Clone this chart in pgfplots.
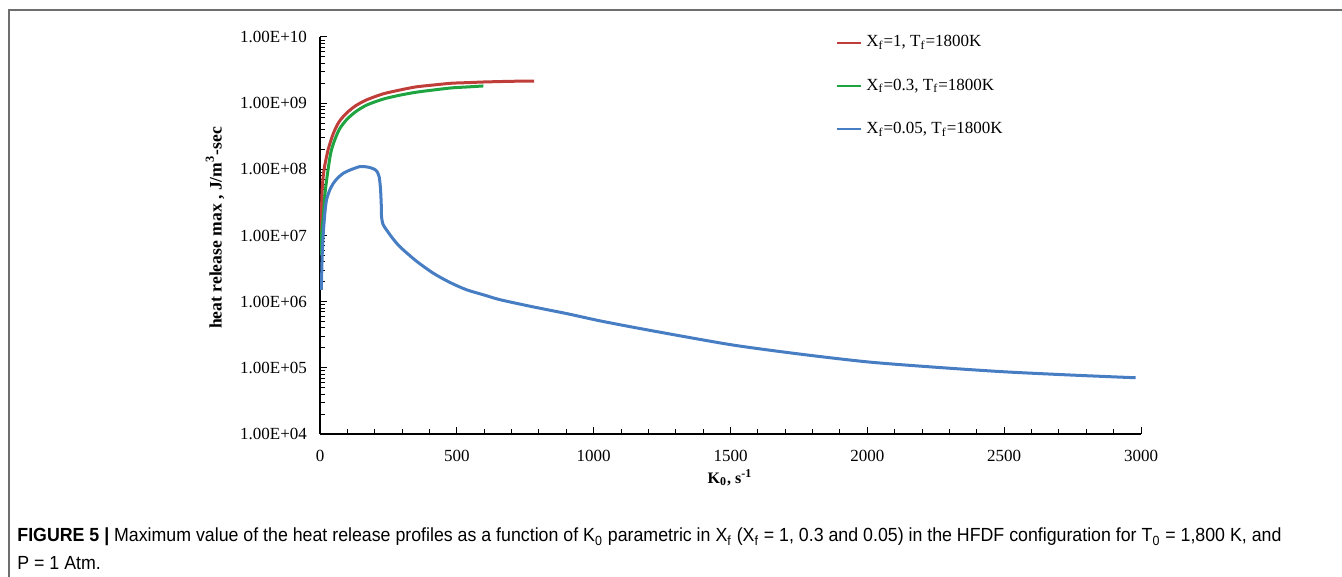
\documentclass[border=0pt]{standalone}
\usepackage{pgfplots}
\pgfplotsset{compat=1.18}
\usepackage{fontspec}
\setmainfont{Liberation Serif}
\newfontfamily\capfont[FakeStretch=0.935]{Liberation Sans}
\definecolor{cred}{RGB}{192,62,58}
\definecolor{cgreen}{RGB}{30,165,65}
\definecolor{cblue}{RGB}{70,125,195}
\definecolor{frm}{RGB}{110,110,110}
\begin{document}
\begin{tikzpicture}
\path[use as bounding box] (0pt,0pt) rectangle (671pt,288.5pt);
\draw[frm, line width=0.7pt] (4.5pt,0pt) -- (4.5pt,283.5pt) -- (671pt,283.5pt);
\begin{axis}[
  at={(160pt,71.5pt)}, anchor=south west,
  scale only axis, width=410.5pt, height=198.5pt,
  axis lines=left, axis line style={-, line width=0.6pt},
  xmin=0, xmax=3000, ymin=1e4, ymax=1e10, ymode=log,
  xtick={0,500,...,3000}, minor x tick num=4,
  xticklabels={0,500,1000,1500,2000,2500,3000},
  ytick={1e4,1e5,1e6,1e7,1e8,1e9,1e10},
  yticklabels={1.00E+04,1.00E+05,1.00E+06,1.00E+07,1.00E+08,1.00E+09,1.00E+10},
  tick align=inside, major tick length=3.5pt, minor tick length=2.5pt,
  tick style={black, line width=0.5pt},
  ticklabel style={font=\fontsize{8.5}{10}\selectfont},
  yticklabel style={xshift=-3pt},
  xticklabel style={yshift=-4.5pt},
  every axis plot/.append style={line width=1.5pt, line join=round, smooth, tension=0.45},
  legend style={draw=none, fill=none, at={(rel axis cs:0.6285,1.0)}, yshift=3pt, anchor=north west,
    font=\fontsize{8.5}{10}\selectfont, row sep=10.5pt, inner sep=0pt},
  legend cell align=left,
  legend image code/.code={\draw[#1,line width=1pt] (0pt,0pt) -- (12pt,0pt);},
]
\addplot[cred] coordinates {
(3,1.0e7) (8,5.01e7) (15,1.0e8) (30,2.0e8) (49,3.51e8) (70,5.25e8) (97,7.08e8)
(130,9.12e8) (170,1.12e9) (230,1.38e9) (292,1.58e9) (350,1.76e9) (414,1.88e9)
(480,2.0e9) (536,2.04e9) (600,2.09e9) (700,2.14e9) (782,2.16e9)};
\addlegendentry{X\textsubscript{f}=1, T\textsubscript{f}=1800K}
\addplot[cgreen] coordinates {
(3,5.01e6) (6,1.07e7) (12,1.91e7) (20,5.01e7) (37,1.58e8) (49,2.45e8) (70,3.98e8)
(97,5.62e8) (130,7.41e8) (170,9.33e8) (230,1.15e9) (292,1.32e9) (350,1.46e9)
(414,1.58e9) (480,1.70e9) (540,1.76e9) (597,1.82e9)};
\addlegendentry{X\textsubscript{f}=0.3, T\textsubscript{f}=1800K}
\addplot[cblue] coordinates {
(5,1.51e6) (8,5.01e6) (12,1.07e7) (18,2.24e7) (24,3.47e7) (35,4.79e7) (49,6.17e7)
(65,7.41e7) (85,8.71e7) (110,9.77e7) (146,1.10e8) (175,1.08e8) (195,1.02e8)
(208,9.33e7) (216,7.76e7) (220,5.75e7) (222,4.37e7) (224,2.82e7) (225,1.91e7)
(230,1.48e7) (244,1.20e7) (265,9.12e6) (292,6.76e6) (350,4.17e6) (414,2.69e6)
(475,1.95e6) (536,1.51e6) (600,1.26e6) (658,1.07e6) (780,8.32e5) (901,6.61e5)
(1023,5.13e5) (1200,3.72e5) (1500,2.24e5) (1750,1.62e5) (2000,1.23e5)
(2250,1.02e5) (2500,8.71e4) (2750,7.76e4) (2980,7.08e4)};
\addlegendentry{X\textsubscript{f}=0.05, T\textsubscript{f}=1800K}
\end{axis}
\node[rotate=90, font=\bfseries\fontsize{8.8}{10}\selectfont] at (107.5pt,174.5pt) {heat release max , J/m\textsuperscript{3}-sec};
\node[font=\bfseries\fontsize{8}{10}\selectfont] at (365pt,49.5pt) {K\textsubscript{0}, s\textsuperscript{-1}};
\node[anchor=base west, inner sep=0pt, font=\capfont\fontsize{9.5}{14}\selectfont] at (8.5pt,17.5pt) {\textbf{FIGURE 5 |} Maximum value of the heat release profiles as a function of K\textsubscript{0} parametric in X\textsubscript{f} (X\textsubscript{f} = 1, 0.3 and 0.05) in the HFDF configuration for T\textsubscript{0} = 1,800 K, and};
\node[anchor=base west, inner sep=0pt, font=\capfont\fontsize{9.5}{14}\selectfont] at (8.5pt,3.5pt) {P = 1 Atm.};
\end{tikzpicture}
\end{document}
